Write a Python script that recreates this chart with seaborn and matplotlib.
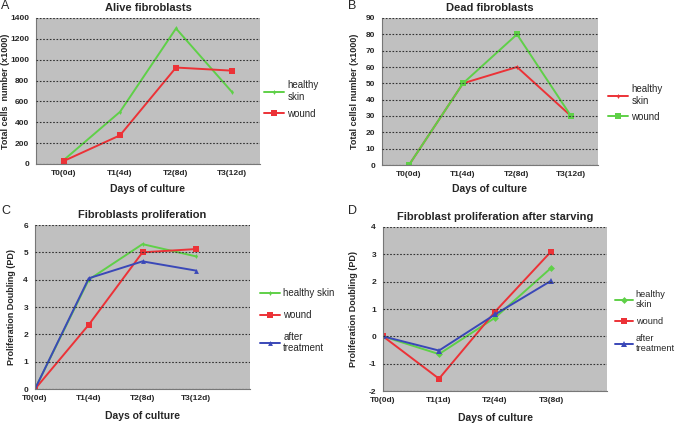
import numpy as np
import pandas as pd
import matplotlib
matplotlib.use("Agg")
import matplotlib.pyplot as plt
import seaborn as sns

# Data
days_12 = ["T0(0d)", "T1(4d)", "T2(8d)", "T3(12d)"]
days_8 = ["T0(0d)", "T1(1d)", "T2(4d)", "T3(8d)"]

alive_healthy = [40, 500, 1300, 690]
alive_wound = [30, 275, 925, 895]

dead_healthy = [0, 50, 60, 30]
dead_wound = [0, 50, 80, 30]

prolif_healthy = [0, 4.0, 5.3, 4.85]
prolif_wound = [0, 2.35, 5.0, 5.12]
prolif_treated = [0, 4.05, 4.67, 4.33]

starv_healthy = [0, -0.65, 0.68, 2.5]
starv_wound = [0, -1.55, 0.9, 3.1]
starv_treated = [0, -0.52, 0.8, 2.03]

GREEN = "#5fd048"
RED = "#ec3237"
BLUE = "#3a48b8"
BG = "#c0c0c0"

sns.set_style("white")
plt.rcParams["font.family"] = ["Liberation Sans", "DejaVu Sans"]
plt.rcParams["axes.unicode_minus"] = False

W, H = 678, 424
fig = plt.figure(figsize=(W / 100, H / 100), dpi=100)


def px_axes(left, top, right, bottom):
    return fig.add_axes([left / W, 1 - bottom / H, (right - left) / W, (bottom - top) / H])


def make_df(days, series):
    rows = []
    for name, vals in series.items():
        for i, v in enumerate(vals):
            rows.append({"pos": i, "day": days[i], "value": v, "group": name})
    return pd.DataFrame(rows)


def draw_panel(ax, days, series, palette, markers, sizes, ylim, ystep,
               title, ylabel, letter_xy, letter, centered, legend_xy, legend_space,
               ylabel_x, xlabel_pad, legend_fs=7, handle_len=2.1):
    df = make_df(days, series)
    sns.lineplot(data=df, x="pos", y="value", hue="group", style="group",
                 palette=palette, markers=markers, dashes=False, ax=ax,
                 linewidth=1.4, markeredgewidth=0, legend=False)
    for line, ms in zip(ax.lines, sizes):
        line.set_markersize(ms)
    ax.set_facecolor(BG)
    ax.set_ylim(*ylim)
    ax.set_yticks(np.arange(ylim[0], ylim[1] + ystep / 2, ystep))
    ax.yaxis.grid(True, color="#333333", linestyle=(0, (1.5, 1.5)), linewidth=0.8)
    ax.set_axisbelow(False)
    ax.set_xticks(range(len(days)))
    ax.set_xticklabels(days)
    if centered:
        ax.set_xlim(-0.5, len(days) - 0.5)
        ax.set_xticks(np.arange(-0.5, len(days)), minor=True)
    else:
        ax.set_xlim(0, len(days))
        ax.set_xticks(np.arange(0, len(days) + 1), minor=True)
    ax.tick_params(axis="x", which="major", length=0, pad=4)
    ax.tick_params(axis="x", which="minor", length=3, color="#666666", direction="out")
    ax.tick_params(axis="y", length=3, color="#666666", direction="out", pad=2)
    ax.tick_params(axis="both", which="major", labelsize=6)
    for lbl in ax.get_xticklabels() + ax.get_yticklabels():
        lbl.set_fontweight("bold")
    for side in ["top", "right"]:
        ax.spines[side].set_visible(False)
    for side in ["left", "bottom"]:
        ax.spines[side].set_color("#777777")
        ax.spines[side].set_linewidth(0.8)
    ax.set_title(title, fontsize=8, fontweight="bold", pad=5)
    ax.set_ylabel(ylabel, fontsize=6.5, fontweight="bold")
    ax.yaxis.set_label_coords(ylabel_x, 0.5)
    ax.set_xlabel("Days of culture", fontsize=7.5, fontweight="bold", labelpad=xlabel_pad)
    fig.text(letter_xy[0] / W, 1 - letter_xy[1] / H, letter, fontsize=9, va="top", ha="left")

    handles = []
    for name, ms in zip(series.keys(), sizes):
        h, = ax.plot([], [], color=palette[name], marker=markers[name],
                     markersize=ms, markeredgewidth=0, linewidth=1.4)
        handles.append(h)
    ax.legend(handles, list(series.keys()), loc="upper left",
              bbox_to_anchor=legend_xy, frameon=False, fontsize=legend_fs,
              handlelength=handle_len, handletextpad=0.3, labelspacing=legend_space,
              borderaxespad=0.2, borderpad=0.2)


axA = px_axes(36, 18, 260, 164)
draw_panel(axA, days_12,
           {"healthy\nskin": alive_healthy, "wound": alive_wound},
           {"healthy\nskin": GREEN, "wound": RED},
           {"healthy\nskin": "d", "wound": "s"}, [2.5, 4],
           (0, 1400), 200, "Alive fibroblasts", "Total cells  number (x1000)",
           (1, 0), "A", True, (1.0, 0.6), 0.7, -0.115, 5)

axB = px_axes(382, 18, 598, 165)
draw_panel(axB, days_12,
           {"healthy\nskin": dead_healthy, "wound": dead_wound},
           {"healthy\nskin": RED, "wound": GREEN},
           {"healthy\nskin": "d", "wound": "s"}, [2.5, 4],
           (0, 90), 10, "Dead fibroblasts", "Total cellsl number (x1000)",
           (348, 0), "B", True, (1.028, 0.575), 0.6, -0.105, 5)

axC = px_axes(35, 225, 250, 389)
draw_panel(axC, days_12,
           {"healthy skin": prolif_healthy, "wound": prolif_wound,
            "after\ntreatment": prolif_treated},
           {"healthy skin": GREEN, "wound": RED, "after\ntreatment": BLUE},
           {"healthy skin": "d", "wound": "s", "after\ntreatment": "^"}, [2.5, 4, 3.5],
           (0, 6), 1, "Fibroblasts proliferation", "Proliferation Doubling (PD)",
           (1, 205), "C", False, (1.028, 0.637), 1.2, -0.09, 7)

axD = px_axes(383, 227, 607, 391)
draw_panel(axD, days_8,
           {"healthy\nskin": starv_healthy, "wound": starv_wound,
            "after\ntreatment": starv_treated},
           {"healthy\nskin": GREEN, "wound": RED, "after\ntreatment": BLUE},
           {"healthy\nskin": "D", "wound": "s", "after\ntreatment": "^"}, [3.5, 5, 4.5],
           (-2, 4), 1, "Fibroblast proliferation after starving", "Proliferation Doubling (PD)",
           (348, 205), "D", False, (1.018, 0.64), 0.85, -0.11, 7, 6.6, 2.0)

fig.savefig("out.png", dpi=100, facecolor="white")
